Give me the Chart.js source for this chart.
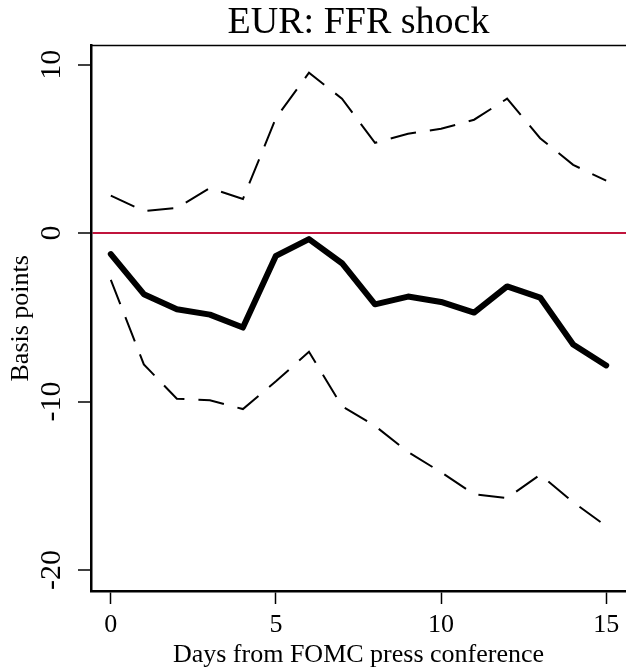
<!DOCTYPE html>
<html>
<head>
<meta charset="utf-8">
<script src="https://cdn.jsdelivr.net/npm/chart.js@4.4.1/dist/chart.umd.min.js"></script>
<style>
  html, body { margin: 0; padding: 0; background: #fff; }
  #wrap { width: 626px; height: 671px; }
</style>
</head>
<body>
<div id="wrap"><canvas id="irfChart"></canvas></div>
<script>
// ===============================
// EUR response to FFR shock (impulse response + bands)
// ===============================

const days = [0, 1, 2, 3, 4, 5, 6, 7, 8, 9, 10, 11, 12, 13, 14, 15];

const response = [-1.25, -3.63, -4.52, -4.84, -5.61, -1.35, -0.36, -1.79,
                  -4.23, -3.77, -4.09, -4.72, -3.17, -3.83, -6.61, -7.86];

const upperBand = [2.22, 1.31, 1.49, 2.68, 2.02, 6.83, 9.52, 7.98,
                   5.36, 5.9, 6.19, 6.73, 7.98, 5.63, 4.05, 3.11];

const lowerBand = [-2.78, -7.8, -9.84, -9.92, -10.45, -8.8, -7.05, -10.28,
                   -11.45, -13.0, -14.2, -15.5, -15.73, -14.35, -15.97, -17.4];

const xTicks = [0, 5, 10, 15];
const yTicks = [10, 0, -10, -20];

const serif = "'Liberation Serif', 'Times New Roman', serif";

// top edge of the plot box
const topBorder = {
    id: "topBorder",
    afterDraw(chart) {
        const { ctx, chartArea } = chart;
        ctx.save();
        ctx.strokeStyle = "#000";
        ctx.lineWidth = 1.5;
        ctx.beginPath();
        ctx.moveTo(chartArea.left, chartArea.top);
        ctx.lineTo(chartArea.right + 2, chartArea.top);
        ctx.stroke();
        ctx.restore();
    }
};

const ctx = document.getElementById("irfChart");

new Chart(ctx, {
    type: "line",
    data: {
        labels: days,
        datasets: [
            {
                label: "Response",
                data: response,
                borderColor: "#000",
                borderWidth: 6,
                borderJoinStyle: "round",
                borderCapStyle: "round",
                pointRadius: 0,
                tension: 0
            },
            {
                label: "Upper",
                data: upperBand,
                borderColor: "#000",
                borderWidth: 2,
                borderDash: [26, 14],
                pointRadius: 0,
                tension: 0
            },
            {
                label: "Lower",
                data: lowerBand,
                borderColor: "#000",
                borderWidth: 2,
                borderDash: [26, 14],
                pointRadius: 0,
                tension: 0
            }
        ]
    },
    options: {
        responsive: true,
        maintainAspectRatio: false,
        animation: false,
        layout: { padding: 0 },
        plugins: {
            legend: { display: false },
            tooltip: { enabled: false },
            title: {
                display: true,
                text: "EUR: FFR shock",
                fullSize: false,
                color: "#000",
                font: { family: serif, size: 38, weight: "normal", lineHeight: 1.2 },
                padding: { top: 0, bottom: 0 }
            }
        },
        scales: {
            x: {
                type: "linear",
                min: -0.6,
                max: 15.6,
                afterBuildTicks: s => { s.ticks = xTicks.map(v => ({ value: v })); },
                afterFit: s => { s.height = 80; },
                grid: {
                    display: true,
                    drawOnChartArea: false,
                    tickLength: 13,
                    tickColor: "#000",
                    tickWidth: 1.5
                },
                border: { display: true, color: "#000", width: 2.5 },
                ticks: {
                    color: "#000",
                    padding: 6,
                    maxRotation: 0,
                    font: { family: serif, size: 26 }
                },
                title: {
                    display: true,
                    text: "Days from FOMC press conference",
                    color: "#000",
                    font: { family: serif, size: 26 },
                    padding: { top: 0, bottom: 0 }
                }
            },
            y: {
                type: "linear",
                min: -21.25,
                max: 11.13,
                afterBuildTicks: s => { s.ticks = yTicks.map(v => ({ value: v })); },
                afterFit: s => { s.width = 91; },
                grid: {
                    display: true,
                    drawOnChartArea: true,
                    color: c => (c.tick && c.tick.value === 0) ? "#C0143C" : "rgba(0,0,0,0)",
                    lineWidth: 2,
                    tickLength: 13,
                    tickColor: "#000",
                    tickWidth: 1.5
                },
                border: { display: true, color: "#000", width: 2.5 },
                ticks: {
                    color: "#000",
                    padding: 6,
                    minRotation: 90,
                    maxRotation: 90,
                    crossAlign: "center",
                    font: { family: serif, size: 30 }
                },
                title: {
                    display: true,
                    text: "Basis points",
                    color: "#000",
                    font: { family: serif, size: 26 },
                    padding: { top: 6, bottom: 0 }
                }
            }
        }
    },
    plugins: [topBorder]
});
</script>
</body>
</html>
